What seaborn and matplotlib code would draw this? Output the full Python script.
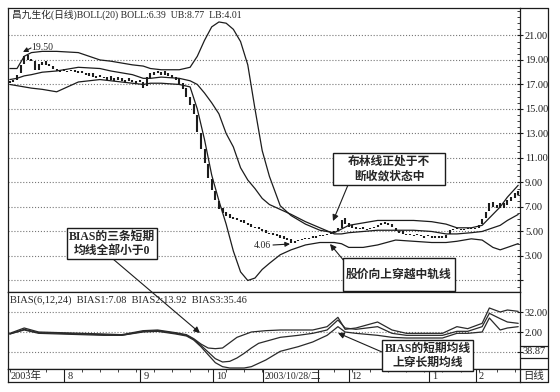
import matplotlib
matplotlib.use("Agg")
import matplotlib.pyplot as plt
import matplotlib.patches as mpatches
from matplotlib.ticker import MultipleLocator
import seaborn as sns
import pandas as pd
import numpy as np

# daily candles (trading day index 0..141)
close = [17.3, 17.4, 17.8, 18.6, 19.3, 19.0, 18.9, 18.2, 18.7, 18.8, 18.6, 18.5,
         18.3, 18.1, 18.2, 18.1, 18.1, 18.2, 18.0, 18.1, 17.9, 17.8, 17.9, 17.6,
         17.7, 17.6, 17.5, 17.6, 17.4, 17.5, 17.4, 17.3, 17.4, 17.3, 17.2, 17.3,
         17.2, 16.7, 17.6, 17.9, 18.0, 17.9, 18.0, 17.8, 17.7, 17.5, 17.4, 17.0,
         16.6, 16.0, 15.3, 14.6, 13.1, 11.7, 10.6, 9.4, 8.4, 7.6, 6.8, 6.5,
         6.3, 6.1, 6.0, 5.9, 5.8, 5.7, 5.5, 5.4, 5.3, 5.2, 5.0, 4.9,
         4.8, 4.7, 4.6, 4.5, 4.4, 4.3, 4.1, 4.2, 4.3, 4.4, 4.4, 4.5,
         4.5, 4.6, 4.6, 4.7, 4.8, 4.9, 5.0, 5.3, 5.9, 5.6, 5.4, 5.3,
         5.2, 5.3, 5.2, 5.2, 5.3, 5.4, 5.5, 5.7, 5.6, 5.5, 5.4, 5.0,
         4.9, 4.8, 4.8, 4.7, 4.7, 4.7, 4.6, 4.6, 4.6, 4.6, 4.5, 4.6,
         4.5, 4.7, 5.1, 5.2, 5.2, 5.1, 5.2, 5.3, 5.2, 5.3, 5.5, 6.0,
         6.6, 7.3, 7.0, 7.2, 6.9, 7.3, 7.6, 7.8, 8.1, 8.3]
open_ = [17.1, 17.2, 17.4, 17.9, 18.7, 19.4, 19.1, 18.9, 18.2, 18.6, 18.9, 18.7,
         18.5, 18.3, 18.0, 18.3, 18.0, 18.1, 18.2, 17.9, 18.1, 17.9, 17.7, 17.9,
         17.5, 17.8, 17.6, 17.4, 17.7, 17.3, 17.6, 17.5, 17.2, 17.5, 17.4, 17.1,
         17.4, 17.2, 16.9, 17.5, 17.8, 18.1, 17.8, 18.1, 17.9, 17.8, 17.6, 17.5,
         17.1, 16.7, 16.0, 15.4, 14.5, 13.0, 11.7, 10.5, 9.3, 8.3, 7.5, 6.9,
         6.6, 6.4, 6.2, 6.1, 5.9, 5.9, 5.7, 5.6, 5.4, 5.4, 5.2, 5.1,
         4.9, 4.9, 4.8, 4.7, 4.6, 4.5, 4.4, 4.1, 4.2, 4.3, 4.5, 4.4,
         4.6, 4.5, 4.7, 4.6, 4.7, 4.8, 4.9, 5.0, 5.3, 6.1, 5.7, 5.5,
         5.4, 5.2, 5.4, 5.1, 5.2, 5.3, 5.4, 5.5, 5.8, 5.7, 5.6, 5.3,
         5.0, 5.0, 4.7, 4.8, 4.6, 4.8, 4.7, 4.5, 4.7, 4.5, 4.6, 4.5,
         4.6, 4.5, 4.8, 5.1, 5.3, 5.2, 5.1, 5.2, 5.3, 5.2, 5.3, 5.6,
         6.1, 6.7, 7.4, 6.9, 7.3, 6.9, 7.2, 7.5, 7.7, 8.0]

# BOLL(20) bands read at sample days
band_idx = [0, 2, 4, 6, 9, 13, 19, 25, 28, 34, 37, 39, 42, 47, 50, 52, 54, 56, 58, 60,
            62, 64, 66, 68, 70, 72, 75, 78, 82, 86, 90, 92, 94, 98, 102, 107, 112, 117,
            121, 124, 128, 131, 134, 136, 138, 141]
boll_up = [18.3, 18.3, 19.3, 19.6, 19.7, 19.7, 19.6, 19.0, 18.9, 18.6, 18.5, 18.3, 18.2,
           18.2, 18.4, 19.3, 20.6, 21.7, 22.1, 22.0, 21.5, 20.5, 18.6, 15.0, 11.6, 9.5,
           7.1, 6.3, 5.6, 5.1, 4.9, 5.2, 5.5, 5.7, 5.9, 5.9, 5.9, 5.8, 5.6, 5.3, 5.3,
           5.5, 6.4, 7.0, 7.8, 8.77]
boll_mid = [17.4, 17.5, 17.7, 17.8, 18.0, 18.1, 18.4, 18.3, 18.1, 17.8, 17.5, 17.5, 17.6,
            17.5, 17.3, 17.0, 16.3, 15.5, 14.6, 13.0, 11.9, 10.2, 9.2, 8.5, 7.7, 7.2,
            6.8, 6.4, 5.8, 5.3, 4.8, 4.8, 4.9, 5.0, 5.1, 5.1, 5.1, 5.0, 4.8, 4.8, 4.9,
            5.0, 5.3, 5.5, 5.9, 6.39]
boll_low = [17.0, 16.9, 16.8, 16.7, 16.6, 16.4, 17.2, 17.4, 17.3, 17.1, 17.0, 17.1, 17.1,
            17.0, 16.8, 15.0, 12.5, 9.6, 7.5, 5.6, 3.4, 1.7, 1.0, 1.2, 1.9, 2.4,
            3.1, 3.5, 3.9, 4.1, 4.1, 4.0, 3.7, 3.7, 3.9, 4.3, 4.2, 4.1, 4.1, 4.2, 4.4,
            4.3, 3.7, 3.5, 3.7, 4.01]

# BIAS(6,12,24) read at sample days
bias_idx = [0, 4, 8, 14, 20, 26, 31, 37, 41, 46, 49, 51, 53, 55, 57, 59, 61, 63, 65, 67,
            69, 71, 75, 80, 84, 88, 91, 93, 96, 102, 106, 110, 114, 120, 124, 127, 131,
            133, 136, 138, 141]
bias_a = [0, 8, 2, 1, 0, -1, -2, 4, 5, 1, -2, -8, -16, -22, -23, -22, -14, -6, -2, 2,
          3, 4, 5, 5, 5, 10, 24, 6, 8, 17, 5, 0, 0, 0, 10, 7, 15, 38, 32, 35, 33]
bias_b = [-1, 6, 1, 0, -1, -2, -3, 3, 4, 0, -3, -9, -18, -28, -38, -43, -42, -37, -30, -22,
          -15, -12, -6, -3, 0, 5, 20, 8, 6, 10, 0, -3, -3, -3, 3, 3, 10, 30, 22, 17, 15]
bias_c = [-1, 5, 0, -1, -2, -3, -3, 2, 3, -1, -4, -10, -20, -32, -44, -50, -52, -52, -52, -50,
          -45, -40, -27, -20, -13, -3, 10, 2, 0, -3, -6, -7, -7, -7, 0, 0, 2, 23, 5, 8, 10]

price_ticks = [1, 3, 5, 7, 9, 11, 13, 15, 17, 19, 21]
price_labels = ["", "3.00", "5.00", "7.00", "9.00", "11.00", "13.00", "15.00",
                "17.00", "19.00", "21.00"]
bias_ticks = [-28, 2, 32]
bias_labels = ["", "2.00", "32.00"]
month_pos = [15.1, 36.2, 56.4, 94.0, 116.4, 129.2]
month_lbl = ["8", "9", "10", "12", "1", "2"]

sns.set_style("white")
plt.rcParams['font.family'] = ['Liberation Serif', 'Noto Sans CJK SC']
plt.rcParams['axes.linewidth'] = 0.9
INK = '#1c1c1c'

fig = plt.figure(figsize=(5.6, 3.92), dpi=100)
L, W = 8 / 560, 512 / 560
ax = fig.add_axes([L, 1 - 292 / 392, W, 284 / 392])
axb = fig.add_axes([L, 1 - 369 / 392, W, 77 / 392], sharex=ax)
axd = fig.add_axes([L, 1 - 382 / 392, W, 13 / 392], sharex=ax)

# --- price panel ---
days = np.arange(len(close))
lo = np.minimum(open_, close)
hi = np.maximum(open_, close)
ax.vlines(days, lo, hi, color=INK, lw=1.5)
bands = pd.DataFrame({'idx': band_idx, 'up': boll_up, 'mid': boll_mid, 'low': boll_low})
for col in ['up', 'mid', 'low']:
    sns.lineplot(data=bands, x='idx', y=col, ax=ax, color=INK, lw=0.9)
ax.set_xlim(-0.5, 141.5)
ax.set_ylim(0.06, 23.24)
ax.set_yticks(price_ticks)
ax.set_yticklabels(price_labels)
ax.yaxis.set_minor_locator(MultipleLocator(0.5))
ax.yaxis.tick_right()
ax.tick_params(axis='y', which='major', direction='inout', length=5, width=0.8,
               labelsize=7.5, pad=1, colors=INK)
ax.tick_params(axis='y', which='minor', direction='in', length=2, width=0.6, colors=INK)
ax.tick_params(axis='x', bottom=False, labelbottom=False)
ax.grid(axis='y', which='major', ls=':', lw=0.8, color='#777777')
ax.set_xlabel(''); ax.set_ylabel('')

# --- BIAS panel ---
bias = pd.DataFrame({'idx': bias_idx, 'b1': bias_a, 'b2': bias_b, 'b3': bias_c})
for col in ['b1', 'b2', 'b3']:
    sns.lineplot(data=bias, x='idx', y=col, ax=axb, color='#2a2a2a', lw=0.9)
axb.set_ylim(-53.5, 62)
axb.set_yticks(bias_ticks)
axb.set_yticklabels(bias_labels)
axb.yaxis.tick_right()
axb.tick_params(axis='y', direction='inout', length=5, width=0.8, labelsize=7.5, pad=1, colors=INK)
axb.tick_params(axis='x', bottom=False, labelbottom=False)
axb.grid(axis='y', ls=':', lw=0.8, color='#777777')
axb.set_xlabel(''); axb.set_ylabel('')

# --- date strip ---
axd.set_ylim(0, 1)
axd.set_yticks([])
axd.set_xticks(np.arange(0, 142, 5))
axd.tick_params(axis='x', bottom=False, top=True, direction='in', length=2, width=0.6,
                labelbottom=False)
axd.vlines(month_pos, 0, 1, color=INK, lw=0.8)
axd.text(0.2, 0.45, "2003年", fontsize=7.5, va='center', ha='left')
for p, s in zip(month_pos, month_lbl):
    axd.text(p + 0.8, 0.45, s, fontsize=7.5, va='center', ha='left')
axd.add_patch(mpatches.Rectangle((70.3, 0), 15.3, 1, facecolor='white', edgecolor=INK,
                                 lw=0.8, zorder=3))
axd.text(70.7, 0.45, "2003/10/28/二", fontsize=7, va='center', ha='left', zorder=4)

for a in (ax, axb, axd):
    for sp in a.spines.values():
        sp.set_color(INK)

# --- overlay in pixel coordinates: frame, right column, notes ---
ov = fig.add_axes([0, 0, 1, 1], zorder=10)
ov.set_xlim(0, 560); ov.set_ylim(392, 0); ov.axis('off'); ov.patch.set_alpha(0)
for xs, ys in [([520, 548], [8, 8]), ([548, 548], [8, 382]), ([520, 548], [382, 382]),
               ([520, 548], [369, 369]), ([520, 548], [346, 346]), ([520, 548], [358, 358])]:
    ov.plot(xs, ys, color=INK, lw=0.9)
ov.text(534, 352, "38.87", fontsize=7.5, ha='center', va='center')
ov.text(534, 376, "日线", fontsize=7.5, ha='center', va='center')

ov.text(12, 15, "昌九生化(日线)BOLL(20) BOLL:6.39  UB:8.77  LB:4.01", fontsize=7,
        ha='left', va='center')
ov.text(10, 300, "BIAS(6,12,24)  BIAS1:7.08  BIAS2:13.92  BIAS3:35.46", fontsize=7.5,
        ha='left', va='center')

arrow = dict(arrowstyle='-|>', color=INK, lw=0.8, mutation_scale=7, shrinkA=0, shrinkB=0)
ov.text(31, 47, "19.50", fontsize=7, ha='left', va='center')
ov.annotate("", xy=(23, 52), xytext=(31, 48), arrowprops=arrow)
ov.text(254, 245, "4.06", fontsize=7, ha='left', va='center')
ov.annotate("", xy=(290, 244), xytext=(273, 245), arrowprops=arrow)

notes = [
    ((67, 228, 90, 31), ["BIAS的三条短期", "均线全部小于0"], (113, 259), (200, 333)),
    ((333, 153, 112, 32), ["布林线正处于不", "断收敛状态中"], (348, 185), (333, 221)),
    ((343, 258, 112, 33), ["股价向上穿越中轨线"], (345, 262), (330, 244)),
    ((382, 340, 91, 31), ["BIAS的短期均线", "上穿长期均线"], (382, 352), (338, 333)),
]
arrow_n = dict(arrow, mutation_scale=9)
for (x0, y0, w, h), lines, start, tip in notes:
    ov.annotate("", xy=tip, xytext=start, arrowprops=arrow_n)
    ov.add_patch(mpatches.Rectangle((x0, y0), w, h, facecolor='white', edgecolor=INK,
                                    lw=1.0, zorder=5))
    n = len(lines)
    for k, s in enumerate(lines):
        yy = y0 + h / 2 + (k - (n - 1) / 2) * 14
        ov.text(x0 + w / 2, yy, s, fontsize=8.5, fontweight='bold', ha='center',
                va='center', zorder=6)

fig.savefig("out.png", dpi=100)
